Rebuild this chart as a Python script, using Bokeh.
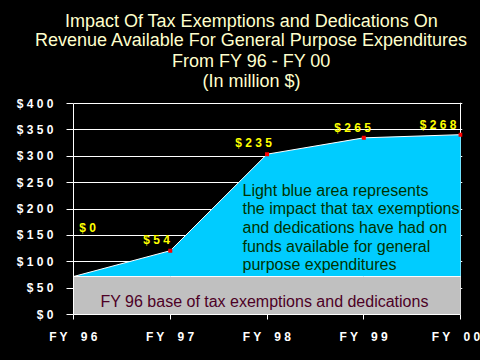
from bokeh.plotting import figure
from bokeh.layouts import column
from bokeh.models import Range1d, FixedTicker, Label, ColumnDataSource
from bokeh.core.properties import value
from bokeh.embed import file_html
from bokeh.resources import INLINE

# ---------------- data ----------------
years = ["FY 96", "FY 97", "FY 98", "FY 99", "FY 00"]
base_level = [72, 72, 72, 72, 72]          # FY 96 base (million $)
total_level = [72, 121, 304, 335, 341]     # base + impact (million $)
impact_labels = ["$0", "$54", "$235", "$265", "$268"]
y_ticks = [0, 50, 100, 150, 200, 250, 300, 350, 400]

title_lines = [
    "Impact Of Tax Exemptions and Dedications On",
    "Revenue Available For General Purpose Expenditures",
    "From FY 96 - FY 00",
    "(In million $)",
]
note_lines = [
    "Light blue area represents",
    "the impact that tax exemptions",
    "and dedications have had on",
    "funds available for general",
    "purpose expenditures",
]
base_note = "FY 96 base of tax exemptions and dedications"

FONT = "Liberation Sans"
TITLE_H = 94


def spaced(s):
    # letter-spaced look of the original labels
    out = []
    for ch in s:
        out.append("\u00a0\u00a0" if ch == " " else ch)
    return " ".join(out)


x = list(range(len(years)))

# ---------------- title strip ----------------
t = figure(width=480, height=TITLE_H, output_backend="svg", toolbar_location=None,
           x_range=Range1d(0, 480), y_range=Range1d(TITLE_H, 0),
           x_axis_location=None, y_axis_location=None, min_border=0,
           background_fill_color="black", border_fill_color="black",
           outline_line_color=None)
t.grid.visible = False
tsrc = ColumnDataSource(dict(x=[251] * 4, y=[20.7, 39.6, 60, 80], text=title_lines))
t.text(x="x", y="y", text="text", source=tsrc, text_color="#FFFFCC",
       text_font=value(FONT), text_font_size="18px", text_align="center",
       text_baseline="alphabetic")

# ---------------- main chart ----------------
p = figure(width=480, height=360 - TITLE_H, output_backend="svg",
           toolbar_location=None,
           x_range=Range1d(0, 4.02), y_range=Range1d(0, 402),
           min_border_left=73, min_border_right=18,
           min_border_top=8, min_border_bottom=46,
           background_fill_color="black", border_fill_color="black",
           outline_line_color=None)

for fig in (t, p):
    try:
        fig.frame_align = False
    except Exception:
        pass

# axes
p.yaxis.ticker = FixedTicker(ticks=y_ticks)
p.yaxis.major_label_overrides = {v: spaced("$%d" % v) for v in y_ticks}
p.yaxis.bounds = (0, 400)
p.xaxis.ticker = FixedTicker(ticks=x)
p.xaxis.major_label_overrides = {i: spaced(y) for i, y in enumerate(years)}
p.xaxis.bounds = (0, 4)
for ax in (p.xaxis, p.yaxis):
    ax.axis_line_color = "white"
    ax.major_tick_line_color = "white"
    ax.minor_tick_line_color = None
    ax.major_tick_in = 0
    ax.major_label_text_color = "white"
    ax.major_label_text_font = FONT
    ax.major_label_text_font_style = "bold"
    ax.major_label_text_font_size = "12px"
p.yaxis.major_tick_out = 7
p.yaxis.major_label_standoff = 13
p.xaxis.major_tick_out = 5
p.xaxis.major_label_standoff = 10

# grid
p.ygrid.ticker = FixedTicker(ticks=y_ticks)
p.ygrid.grid_line_color = "white"
p.xgrid.ticker = FixedTicker(ticks=[4])
p.xgrid.grid_line_color = "white"

# areas
src = ColumnDataSource(dict(x=x, base=base_level, total=total_level,
                            zero=[0] * len(x)))
p.varea(x="x", y1="zero", y2="base", source=src, fill_color="#C0C0C0")
p.varea(x="x", y1="base", y2="total", source=src, fill_color="#00CCFF")
p.line(x="x", y="base", source=src, line_color="white", line_width=1)
p.line(x="x", y="total", source=src, line_color="white", line_width=1)

mx = [xi for xi, tv, b in zip(x, total_level, base_level) if tv > b]
my = [tv for tv, b in zip(total_level, base_level) if tv > b]
p.scatter(mx, my, marker="square", size=4, fill_color="#FF0000",
          line_color=None)


# helpers: page pixel -> data units (annotation placement only)
def dx(px):
    return (px - 73) / (389 / 4.02)


def dy(py):
    return (314 - py) / (212 / 402)


# value labels
label_pos = [(87, 227), (156, 239.5), (253, 142.5), (352, 127.5), (437.5, 124.5)]
for txt, (px, py) in zip(impact_labels, label_pos):
    p.add_layout(Label(x=dx(px), y=dy(py), text=spaced(txt),
                       text_color="#FFFF00", text_font=FONT,
                       text_font_style="bold", text_font_size="12px",
                       text_align="center", text_baseline="alphabetic"))

# annotation in the cyan area
for i, txt in enumerate(note_lines):
    p.add_layout(Label(x=dx(242), y=dy(189.5 + i * 18.7), text=txt,
                       text_color="#003300", text_font=FONT,
                       text_font_size="16px", text_align="left",
                       text_baseline="alphabetic"))

# base note in gray area
p.add_layout(Label(x=dx(100), y=dy(301), text=base_note, text_color="#4D0026",
                   text_font=FONT, text_font_size="16px", text_align="left",
                   text_baseline="alphabetic"))

layout = column(t, p, spacing=0)

html = file_html(layout, INLINE)
i = html.rfind("</head>")
if i >= 0:
    html = html[:i] + "<style>html,body{background:#000;}</style>" + html[i:]
open("out.html", "w").write(html)
